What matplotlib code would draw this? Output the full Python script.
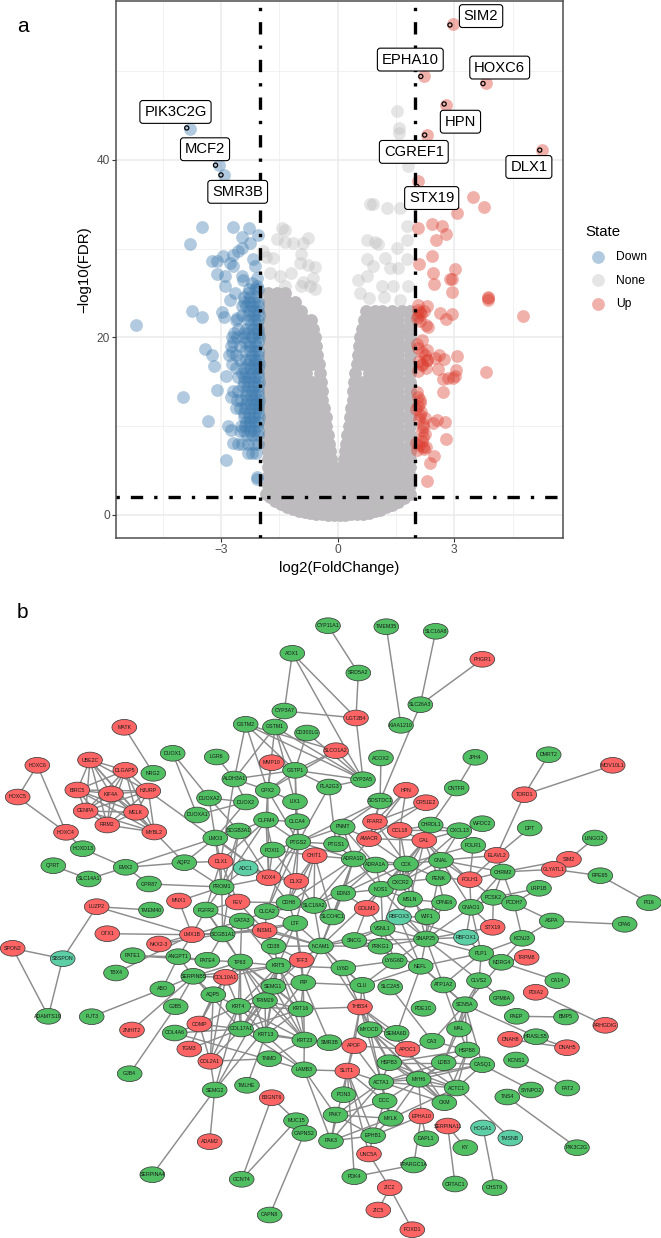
import itertools
import matplotlib
matplotlib.use('Agg')
import matplotlib.pyplot as plt
from matplotlib.patches import Ellipse

plt.rcParams['font.family'] = ['Liberation Sans', 'DejaVu Sans']

# panel a: volcano values
down_x = [-3.80, -3.05, -2.92, -3.50, -2.70, -2.27, -2.04, -2.47, -3.80, -2.26, -2.47, -2.56, -2.68, -2.94, -3.24,
          -3.11, -2.77, -2.17, -2.13, -2.70, -3.11, -2.90, -2.47, -2.08, -2.43, -2.21, -2.90, -2.08, -2.64, -2.30,
          -5.19, -3.74, -3.48, -2.98, -2.92, -2.77, -2.47, -2.60, -3.41, -3.22, -3.18, -2.87, -3.11, -3.97, -3.34,
          -2.81, -2.73, -2.68, -2.87, -2.08, -2.07, -2.62, -2.73,
          -2.10, -2.25, -2.40, -2.05, -2.20, -2.35, -2.02, -2.15, -2.30, -2.45, -2.08, -2.22, -2.05, -2.18, -2.35,
          -2.55, -2.03, -2.20, -2.40, -2.60, -2.72, -2.10, -2.25, -2.50, -2.75, -2.05, -2.20, -2.62, -2.80, -2.72,
          -2.03, -2.15, -2.30, -2.72, -2.05, -2.20, -2.35, -2.45, -2.02, -2.15, -2.30, -2.42, -2.05, -2.20, -2.35,
          -2.55, -2.70, -2.03, -2.18, -2.33, -2.48, -2.60, -2.05, -2.20, -2.38, -2.50, -2.03, -2.15, -2.28, -2.42,
          -2.07, -2.25, -2.38, -2.48, -2.05, -2.20, -2.33, -2.05, -2.15, -2.30, -2.45, -2.55, -2.10, -2.20, -2.30,
          -2.04, -2.12, -2.28, -2.04, -2.14, -2.27, -2.40, -2.06, -2.16, -2.28, -2.06, -2.14, -2.30, -2.62, -2.04,
          -2.12, -2.30, -2.42, -2.66, -2.04, -2.12, -2.28, -2.38, -2.68, -2.04, -2.12, -2.25, -2.38, -2.04, -2.12,
          -2.25, -2.36, -2.52, -2.04, -2.12, -2.25, -2.40, -2.62, -2.04, -2.12, -2.27, -2.42, -2.55, -2.04, -2.14,
          -2.30, -2.44, -2.04, -2.12, -2.24, -2.36, -2.04, -2.12, -2.24, -2.36, -2.04, -2.12, -2.28, -2.40, -2.04,
          -2.14, -2.26, -2.36, -2.04, -2.14, -2.26, -2.40, -2.50]
down_y = [43.5, 39.4, 38.3, 32.4, 32.4, 32.3, 31.5, 31.3, 30.5, 30.6, 30.1, 29.7, 29.3, 29.2, 28.6,
          28.6, 28.4, 28.8, 28.0, 28.0, 27.1, 26.9, 26.9, 26.7, 26.5, 26.1, 25.8, 25.8, 25.0, 25.0,
          21.4, 23.0, 22.3, 22.9, 22.3, 24.2, 23.5, 22.2, 18.7, 18.0, 16.8, 15.7, 14.1, 13.3, 10.6,
          10.0, 9.6, 8.1, 6.2, 4.3, 4.1, 12.0, 13.3,
          24.5, 24.5, 24.5, 23.5, 23.5, 23.5, 22.5, 22.5, 22.5, 22.5, 21.5, 21.5, 21.0, 21.0, 21.0,
          21.0, 20.0, 20.0, 20.0, 20.0, 20.0, 19.0, 19.0, 19.0, 19.0, 18.0, 18.0, 18.0, 18.0, 18.3,
          17.0, 17.0, 17.0, 17.0, 16.0, 16.0, 16.0, 16.0, 15.0, 15.0, 15.0, 15.0, 14.0, 14.0, 14.0,
          14.0, 14.0, 13.0, 13.0, 13.0, 13.0, 13.0, 12.0, 12.0, 12.0, 12.0, 11.0, 11.0, 11.0, 11.0,
          10.0, 10.0, 10.0, 10.0, 9.0, 9.0, 9.0, 8.0, 8.0, 8.0, 8.0, 8.0, 7.0, 7.0, 7.0,
          25.5, 25.4, 25.5, 24.0, 24.0, 24.0, 24.0, 23.0, 23.0, 23.0, 22.0, 22.0, 22.0, 22.0, 20.5,
          20.5, 20.5, 20.5, 20.5, 19.5, 19.5, 19.5, 19.5, 19.5, 18.5, 18.5, 18.5, 18.5, 17.5, 17.5,
          17.5, 17.5, 17.5, 16.5, 16.5, 16.5, 16.5, 16.5, 15.5, 15.5, 15.5, 15.5, 15.5, 14.5, 14.5,
          14.5, 14.5, 13.5, 13.5, 13.5, 13.5, 12.5, 12.5, 12.5, 12.5, 11.5, 11.5, 11.5, 11.5, 10.5,
          10.5, 10.5, 10.5, 9.5, 9.5, 9.5, 9.5, 9.5]

up_x = [2.98, 2.22, 3.81, 2.80, 2.31, 5.27, 2.06, 3.49, 3.76, 3.08, 2.07, 2.42, 2.68, 2.80, 2.52, 2.44, 2.09, 3.02,
        2.46, 2.89, 2.93, 2.48, 2.95, 3.88, 3.88, 3.88, 2.06, 2.31, 2.12, 2.63, 2.79, 2.95, 4.76, 2.03, 2.27, 2.33,
        2.16, 2.07, 2.31, 2.61, 3.06, 2.73, 2.50, 2.29, 2.16, 2.27, 2.59, 3.04, 3.82, 2.72, 3.02, 2.85, 2.97, 2.70,
        2.03, 2.07, 2.12, 2.02, 2.12, 2.25, 2.46, 2.56, 2.76, 2.20, 2.16, 2.19, 2.78, 2.02, 2.19, 2.27, 2.05, 2.49,
        2.37, 2.31, 2.08, 2.14, 2.22, 2.06, 2.12, 2.04, 2.16, 2.24, 2.10, 2.18, 2.30, 2.08, 2.12, 2.06, 2.14, 2.10,
        2.20, 2.24, 2.16, 2.22, 2.10]
up_y = [55.3, 49.4, 48.7, 46.2, 42.8, 41.1, 37.6, 35.8, 34.7, 34.0, 32.3, 32.8, 32.5, 31.7, 31.0, 29.2, 28.3, 27.7,
        27.2, 26.6, 26.6, 26.0, 25.1, 24.5, 24.4, 24.2, 23.6, 23.5, 22.9, 22.7, 22.1, 22.6, 22.4, 22.2, 21.4, 21.2,
        19.7, 18.8, 18.6, 18.0, 17.9, 17.6, 17.7, 17.5, 16.9, 16.5, 16.4, 16.3, 16.1, 15.3, 15.7, 15.4, 15.4, 13.8,
        13.9, 13.3, 12.6, 11.9, 11.3, 10.9, 10.3, 10.7, 10.5, 10.2, 9.4, 8.8, 8.5, 8.1, 7.7, 7.7, 7.3, 6.6,
        5.8, 3.8, 23.1, 22.6, 23.0, 22.4, 21.8, 19.3, 18.3, 18.0, 17.3, 17.0, 17.4, 16.2, 12.9, 12.3, 11.6, 10.8,
        9.9, 9.1, 8.3, 7.4, 7.9]

# loose grey points above the dense part
none_x = [-1.44, -1.36, -1.57, -1.36, -1.14, -0.88, -0.75, -0.93, -1.91, -1.66, -1.83, -0.97, -0.75, -0.58, -1.74,
          -1.48, -0.63, -1.36, -0.93, -0.71, -0.58, 0.75, 0.96, 1.05, 0.75, 0.92, 1.22, 1.52, 1.78, 1.78, 1.78,
          0.75, 0.53, 0.57, 1.13, 1.43, 1.82, 1.35, 1.56, 0.92, 0.83, 1.28, 1.60, 1.86, 1.53, 1.57, 1.57, 1.82,
          -1.80, 1.35, 1.00, -0.90, -1.20, 0.80, 1.20, 1.60]
none_y = [32.3, 32.1, 31.1, 30.8, 30.6, 30.6, 31.2, 29.4, 29.7, 28.9, 29.1, 28.4, 28.2, 27.9, 27.3,
          26.9, 26.7, 25.8, 25.8, 25.8, 25.4, 31.0, 30.8, 30.5, 28.8, 28.0, 28.9, 30.1, 31.0, 32.5, 28.8,
          26.9, 26.5, 25.0, 25.8, 25.8, 25.8, 27.8, 27.8, 35.0, 35.0, 34.6, 34.6, 35.5, 45.5, 43.6, 43.0, 39.3,
          2.8, 1.7, 0.9, 26.2, 27.2, 24.4, 24.6, 24.2]

# dense grey cloud
none_row_y = [0.2, 0.8, 1.6, 2.5, 3.4, 4.4, 5.4, 6.3, 7.2, 8, 9, 10, 11, 12, 13, 14, 15, 16, 17, 18, 19, 20, 21, 22,
              23, 24, 25]
none_row_x = [
    [-0.5, -0.25, 0, 0.25, 0.5],
    [-1.1, -0.85, -0.6, -0.35, -0.1, 0.1, 0.35, 0.6, 0.85, 1.1],
    [-1.45, -1.2, -0.95, -0.7, -0.45, -0.2, 0, 0.2, 0.45, 0.7, 0.95, 1.2, 1.45],
    [-1.72, -1.47, -1.2, -0.95, -0.7, -0.45, -0.2, 0.05, 0.3, 0.55, 0.8, 1.05, 1.3, 1.55, 1.75],
    [-1.8, -1.6, -1.35, -1.1, -0.85, -0.6, -0.35, -0.1, 0.15, 0.4, 0.65, 0.9, 1.15, 1.4, 1.65, 1.85],
    [-1.8, -1.55, -1.3, -1.05, -0.8, -0.55, -0.3, -0.05, 0.2, 0.45, 0.7, 0.95, 1.2, 1.45, 1.7, 1.85],
    [-1.8, -1.6, -1.35, -1.1, -0.85, -0.6, -0.35, -0.1, 0.15, 0.4, 0.65, 0.9, 1.15, 1.4, 1.65, 1.85],
    [-1.8, -1.55, -1.3, -1.05, -0.8, -0.55, -0.3, -0.17, 0.17, 0.3, 0.55, 0.8, 1.05, 1.3, 1.55, 1.85],
    [-1.8, -1.65, -1.4, -1.15, -0.9, -0.65, -0.4, -0.2, 0.2, 0.4, 0.65, 0.9, 1.15, 1.4, 1.65, 1.85],
    [-1.8, -1.55, -1.3, -1.05, -0.8, -0.55, -0.3, -0.22, 0.22, 0.3, 0.55, 0.8, 1.05, 1.3, 1.55, 1.85],
    [-1.8, -1.65, -1.4, -1.15, -0.9, -0.65, -0.4, -0.25, 0.25, 0.4, 0.65, 0.9, 1.15, 1.4, 1.65, 1.85],
    [-1.8, -1.55, -1.3, -1.05, -0.8, -0.55, -0.3, 0.3, 0.55, 0.8, 1.05, 1.3, 1.55, 1.85],
    [-1.8, -1.65, -1.4, -1.15, -0.9, -0.65, -0.4, -0.31, 0.31, 0.4, 0.65, 0.9, 1.15, 1.4, 1.65, 1.85],
    [-1.8, -1.55, -1.3, -1.05, -0.8, -0.55, -0.34, 0.34, 0.55, 0.8, 1.05, 1.3, 1.55, 1.85],
    [-1.8, -1.65, -1.4, -1.15, -0.9, -0.65, -0.4, 0.4, 0.65, 0.9, 1.15, 1.4, 1.65, 1.85],
    [-1.8, -1.55, -1.3, -1.05, -0.8, -0.55, -0.4, 0.4, 0.55, 0.8, 1.05, 1.3, 1.55, 1.85],
    [-1.8, -1.65, -1.4, -1.15, -0.9, -0.65, -0.43, 0.43, 0.65, 0.9, 1.15, 1.4, 1.65, 1.85],
    [-1.8, -1.55, -1.3, -1.05, -0.8, -0.46, 0.46, 0.8, 1.05, 1.3, 1.55, 1.85],
    [-1.8, -1.65, -1.4, -1.15, -0.9, -0.65, -0.49, 0.49, 0.65, 0.9, 1.15, 1.4, 1.65, 1.85],
    [-1.8, -1.55, -1.3, -1.05, -0.8, -0.52, 0.52, 0.8, 1.05, 1.3, 1.55, 1.85],
    [-1.8, -1.65, -1.4, -1.15, -0.9, -0.65, -0.55, 0.55, 0.65, 0.9, 1.15, 1.4, 1.65, 1.85],
    [-1.8, -1.55, -1.3, -1.05, -0.8, -0.58, 0.58, 0.8, 1.05, 1.3, 1.55, 1.85],
    [-1.8, -1.65, -1.4, -1.15, -0.9, -0.62, 0.62, 0.9, 1.15, 1.4, 1.65, 1.85],
    [-1.8, -1.55, -1.3, -1.05, -0.85, -0.68, 0.68, 0.85, 1.05, 1.3, 1.55, 1.85],
    [-1.8, -1.65, -1.4, -1.15, -0.95, 0.72, 0.95, 1.15, 1.4, 1.65, 1.85],
    [-1.8, -1.55, -1.3, -1.1],
    [-1.8, -1.55, -1.35],
]
# lower edge of the cloud, the smooth arc under the V
arc_x = [-1.85, -1.75, -1.6, -1.45, -1.3, -1.15, -1.0, -0.85, -0.7, -0.55, -0.4, -0.25, -0.1, 0.05, 0.2, 0.35, 0.5,
         0.65, 0.8, 0.95, 1.1, 1.25, 1.4, 1.55, 1.7, 1.85]
arc_y = [2.4, 2.0, 1.55, 1.2, 0.9, 0.65, 0.45, 0.3, 0.2, 0.1, 0.05, 0, 0, 0, 0, 0.05, 0.1, 0.15, 0.25, 0.4, 0.6, 0.85,
         1.15, 1.5, 1.95, 2.4]

gene_names = ['PIK3C2G', 'MCF2', 'SMR3B', 'SIM2', 'EPHA10', 'HOXC6', 'HPN', 'CGREF1', 'DLX1', 'STX19']
gene_x = [-3.88, -3.14, -3.00, 2.89, 2.14, 3.74, 2.74, 2.24, 5.20, 2.04]
gene_y = [43.6, 39.4, 38.3, 55.2, 49.4, 48.6, 46.3, 42.8, 41.1, 37.0]
label_x = [-4.17, -3.41, -2.57, 3.69, 1.87, 4.17, 3.16, 1.96, 4.92, 2.42]
label_y = [45.4, 41.2, 36.4, 56.2, 51.3, 50.4, 44.3, 40.9, 39.2, 35.7]

fc_cut = 2
fdr_cut = 2

# panel b: network, x and y are the layout
nodes_green = [
    ('AOX1', 292.3, 653.3), ('CYP11A1', 328, 625.7), ('CYP3A7', 284.3, 711), ('GSTM2', 245.7, 724.3),
    ('GSTM1', 275, 727), ('CD300LG', 307, 733), ('NRG2', 153.3, 773.3), ('DUOX1', 172.7, 753.3),
    ('LGR6', 216.7, 757), ('GSTP1', 295, 770.3), ('ALDH3A1', 234.3, 779), ('GPX2', 267.7, 790.3),
    ('DUOXA2', 209, 798), ('DUOX2', 246, 802), ('LIX1', 295, 801.7), ('PLA2G3', 329, 787),
    ('DUOXA1', 197, 815), ('OLFM4', 266, 820), ('CLCA4', 297.3, 821.7), ('SCGB3A1', 238.7, 831),
    ('LMO3', 215.3, 838), ('PTGS2', 298.3, 842), ('HOXD13', 82.7, 848.7), ('FOXI1', 272.7, 850),
    ('QPRT', 53.3, 865.7), ('EMX2', 125.7, 867.3), ('AQP2', 184.3, 862.7), ('SLC14A1', 88.7, 879),
    ('GPR87', 149, 884), ('PROM1', 221.7, 887), ('CDH8', 288.5, 902.7), ('SLC18A2', 314, 905.5),
    ('TMEM40', 151, 910), ('FGFR2', 205.7, 910), ('CLCA2', 266.7, 911.5), ('SLCO4C1', 332.3, 917),
    ('EDN3', 343.3, 893.2), ('NOS1', 381, 889.2), ('CXCR2', 400.2, 882.3), ('MSLN', 410, 899.2),
    ('CCK', 406, 864), ('ADRA1A', 375.7, 865), ('ADRA1D', 353.7, 859), ('WIF1', 427.3, 916.7),
    ('VSNL1', 382.7, 928.3), ('SNAP25', 426, 939), ('PRKG1', 380.3, 946.2), ('SNCG', 354.3, 940.5),
    ('LTF', 295.3, 923.3), ('GATA3', 241.7, 921), ('NCAM1', 321, 946), ('CD38', 273.7, 946.3),
    ('KRT5', 278.3, 965.7), ('LY6D', 343.3, 968), ('LY6G6D', 394.8, 961), ('NEFL', 420.7, 966.3),
    ('CLU', 362.3, 985.3), ('SLC2A5', 390.2, 987), ('PIP', 303.3, 982.7), ('SEMG1', 273.3, 986.3),
    ('TRIM29', 265, 1000.7), ('KRT16', 300.7, 1009), ('PDE1C', 423.5, 1008.3), ('KRT13', 265.7, 1035),
    ('KRT23', 304.3, 1040), ('SMR3B', 329.3, 1042.7), ('MYOCD', 369.8, 1029.7), ('SEMA6D', 396.7, 1033.3),
    ('CA3', 432.2, 1041.2), ('SRD5A2', 358.3, 673), ('TMEM35', 386.3, 626.7), ('SLC16A8', 435.7, 631.3),
    ('SLC26A3', 420.3, 704.7), ('KIAA1210', 401, 725.3), ('ACOX2', 381, 758), ('CYP3A5', 363, 779.7),
    ('JPH4', 475.3, 757.3), ('CNTFR', 456.7, 788), ('DMRT2', 548.7, 754.7), ('SOSTDC1', 380, 801),
    ('CHRDL1', 430.7, 825), ('WFDC2', 482.3, 823.7), ('CXCL13', 459.3, 830.7), ('DPT', 529.7, 828),
    ('PNMT', 342.7, 827), ('LINGO2', 594.7, 838), ('PTGS1', 336, 844), ('FOLR1', 473.3, 845.3),
    ('GNAL', 441, 860.3), ('CHRM2', 502.7, 872), ('RPE65', 600.3, 875.7), ('PENK', 438.3, 878),
    ('LRP1B', 539, 888.3), ('PCSK2', 493.3, 897.3), ('CPNE6', 444, 902.7), ('PI16', 649, 902.7),
    ('PCDH7', 514, 903), ('GNAO1', 471, 907.3), ('ASPA', 551.7, 921), ('CPA6', 624.7, 924.3),
    ('KCNJ3', 522.3, 938.3), ('PLP1', 481.3, 953.3), ('NDRG4', 501.3, 962.3), ('CLVS2', 479, 980.7),
    ('CA14', 557.3, 980.7), ('ATP1A2', 443.3, 985), ('GPM6A', 501.7, 998), ('SCN5A', 465, 1004.7),
    ('PAEP', 516.7, 1016.3), ('BMP5', 566, 1017), ('MAL', 459, 1029), ('HRASLS5', 536, 1036.7),
    ('HSPB8', 467.3, 1050), ('KCNS1', 516, 1060), ('HSPB3', 389.3, 1062.7), ('LDB3', 443.7, 1062.7),
    ('CASQ1', 482.3, 1064.7), ('MYH6', 418.7, 1079.3), ('ACTA1', 381.3, 1082), ('ACTC1', 456.7, 1088),
    ('FAT2', 567.3, 1088), ('SYNPO2', 531, 1090), ('TNS4', 507.3, 1097), ('PON3', 343.7, 1094.7),
    ('DCC', 384.7, 1101), ('CKM', 444.3, 1102.7), ('PAK7', 335.5, 1115), ('MYLK', 391, 1118.3),
    ('PIK3C2G', 577, 1147.7), ('EPHB1', 373.2, 1135.7), ('PAK3', 331, 1141), ('DAPL1', 426.3, 1138.7),
    ('KY', 465.3, 1147.7), ('PPARGC1A', 413.7, 1165), ('PDK4', 354.3, 1176.7), ('CRTAC1', 455, 1184),
    ('CHST9', 494.7, 1187.7), ('SCGB1A1', 222.7, 934), ('PATE1', 132.7, 955.7), ('ANGPT1', 178.3, 956.7),
    ('PATE4', 207.3, 960.3), ('TP63', 240.3, 962), ('TBX4', 116, 973), ('SERPINB5', 193.3, 976.3),
    ('ABO', 162.3, 989), ('AQP5', 213.3, 994.7), ('KRT4', 238.3, 1006.3), ('GJB5', 175.7, 1006.7),
    ('FUT3', 91.7, 1016.7), ('ADAMTS19', 48.3, 1016.3), ('COL4A6', 174.7, 1033), ('COL17A1', 241, 1029),
    ('TNMD', 269.3, 1058.7), ('LAMB3', 304, 1069.8), ('GJB4', 129.7, 1073.7), ('TMLHE', 247, 1085.3),
    ('SEMG2', 214.7, 1090), ('MUC15', 296, 1120.7), ('CAPNS2', 304.3, 1133.3), ('SERPINA4', 152.3, 1174.7),
    ('GCNT4', 241.7, 1179.3), ('CAPN8', 269.7, 1215),
]
nodes_red = [
    ('MATK', 124.3, 727.3), ('UBE2C', 90, 760), ('DLGAP5', 125.3, 770.3), ('MMP10', 271.7, 762.7),
    ('SLCO1A2', 336, 750.7), ('HOXC6', 37.3, 765.3), ('HOXC5', 17.7, 797), ('BIRC5', 77.3, 790),
    ('KIF4A', 111, 794), ('HJURP', 148.3, 791), ('CENPA', 85.7, 811), ('MELK', 136, 812.3),
    ('RRM2', 107.3, 825), ('MYBL2', 154.3, 832), ('HOXC4', 66, 832.3), ('CHIT1', 314.7, 855.7),
    ('DLX1', 220.7, 861.3), ('NOX4', 268.7, 877.7), ('DLX2', 296.3, 881.3), ('LUZP2', 96.7, 906.7),
    ('MNX1', 179, 901), ('FEV', 237.7, 902), ('GOLM1', 366.7, 908.3), ('INSM1', 264.7, 930.5),
    ('TFF3', 301.7, 960), ('THBS4', 360, 1007), ('APOF', 354.2, 1045.8), ('APOC1', 407.5, 1049.2),
    ('PHGR1', 482.3, 659.3), ('UGT2B4', 356, 718), ('HPN', 406, 790.3), ('MOV10L1', 612.7, 765.3),
    ('TDRD1', 524.3, 794.7), ('OR51E2', 426, 802.7), ('FFAR2', 375, 821.7), ('CCL18', 399.7, 830.3),
    ('AMACR', 369, 838.7), ('GAL', 424.3, 840.3), ('ELAVL2', 496.7, 855.3), ('SIM2', 569, 859.3),
    ('GLYATL1', 553.7, 869.3), ('FOLH1', 469.7, 879.7), ('STX19', 492.7, 927.3), ('TRPM8', 526.7, 957.3),
    ('PDIA2', 535.7, 992.3), ('ARHGDIG', 605.3, 1025.3), ('DNAH8', 510, 1039.3), ('DNAH5', 567, 1047.7),
    ('SLIT1', 347.3, 1071), ('EPHA10', 421.3, 1116), ('SERPINA11', 447.7, 1126), ('UNC5A', 369, 1154),
    ('ZIC2', 389.7, 1187.7), ('ZIC5', 378.3, 1210), ('FOXD1', 412.3, 1229.7), ('OTX1', 107.3, 933.7),
    ('LMX1B', 192, 934.7), ('NKX2-3', 159, 944), ('SPON2', 12.7, 948.3), ('COL10A1', 225.7, 977.3),
    ('COMP', 199.3, 1024), ('ZNHIT2', 132, 1030), ('TGM3', 189.3, 1049), ('COL2A1', 210.3, 1061.3),
    ('B3GNT6', 271.7, 1097.7), ('ADAM2', 209.7, 1141.7),
]
nodes_teal = [
    ('ADC1', 245.7, 868), ('RBFOX3', 399, 917), ('RBFOX1', 466, 937.3), ('HOGA1', 483, 1128),
    ('TMSNB', 510.3, 1138), ('SBSPON', 62.7, 958.7),
]

cell_cycle = ['UBE2C', 'DLGAP5', 'BIRC5', 'KIF4A', 'HJURP', 'CENPA', 'MELK', 'RRM2', 'MYBL2']
keratin = ['KRT4', 'KRT5', 'KRT13', 'KRT16', 'KRT23', 'COL17A1', 'TRIM29', 'TP63', 'SEMG1']
edge_text = """
CYP11A1 SRD5A2, SRD5A2 UGT2B4, TMEM35 KIAA1210, SLC16A8 SLC26A3, PHGR1 SLC26A3, SLC26A3 SOSTDC1,
AOX1 CYP3A7, AOX1 UGT2B4, AOX1 CYP3A5, CYP3A7 UGT2B4, CYP3A7 GSTM1, UGT2B4 CYP3A5, ACOX2 SOSTDC1,
SLCO1A2 CYP3A5, GSTM1 CYP3A5, GSTM2 CYP3A5, CD300LG GSTP1, GSTP1 CYP3A5, GSTM2 ALDH3A1, GSTM2 GPX2,
GSTM2 GSTP1, GSTM1 ALDH3A1, GSTM1 GPX2, GSTM1 GSTP1, GSTM1 LIX1, MMP10 GSTP1, MMP10 GPX2, ALDH3A1 GSTP1,
ALDH3A1 GPX2, ALDH3A1 DUOX2, ALDH3A1 DLX1, GPX2 GSTP1, GPX2 OLFM4, GPX2 PTGS2, GPX2 LIX1, LGR6 ALDH3A1,
DUOX1 DUOXA2, DUOX1 DUOXA1, DUOXA2 DUOX2, DUOXA1 DUOX2, DUOXA2 SCGB3A1, SCGB3A1 OLFM4, SCGB3A1 NOX4,
LMO3 EMX2, EMX2 SLC14A1, EMX2 HOXD13, EMX2 GPR87, EMX2 AQP2, HOXD13 HOXC4, QPRT SLC14A1,
HOXC6 HOXC5, HOXC6 HOXC4, HOXC5 HOXC4, MATK NRG2, HJURP NOX4, MYBL2 AQP2, AQP2 DLX1, AQP2 PROM1,
GPR87 PROM1, MNX1 PROM1, MNX1 LMX1B, LMX1B OTX1, LUZP2 LMX1B, LUZP2 SBSPON, SBSPON SPON2, SBSPON ADAMTS19,
SPON2 ADAMTS19, LUZP2 TMEM40, NKX2-3 LMX1B, NKX2-3 SCGB1A1, PATE1 ANGPT1, PATE1 PATE4, TBX4 LMX1B,
ANGPT1 LMX1B, ANGPT1 SERPINB5, ABO FUT3, ABO ANGPT1, ABO SERPINB5, ZNHIT2 SERPINB5, GJB5 GJB4, GJB5 SERPINB5,
COL4A6 COL17A1, COL4A6 COMP, COL4A6 LAMB3, TGM3 AQP5, TGM3 COL17A1, COMP COL2A1, COMP COL10A1, COL2A1 TNMD,
COL2A1 SEMG2, COL2A1 AQP5, COL2A1 KRT4, COL2A1 COL17A1, SEMG2 ADAM2, SEMG2 SERPINA4, SEMG2 SEMG1, SEMG2 KRT4,
TMLHE KRT13, B3GNT6 MUC15, B3GNT6 GCNT4, MUC15 GCNT4, CAPNS2 CAPN8, LAMB3 SLIT1, LAMB3 PAK3, LAMB3 PAK7,
TNMD KRT23, SIM2 GLYATL1, LINGO2 SIM2, CHRM2 GLYATL1, CHRM2 SIM2, GLYATL1 RPE65, RPE65 PI16, LRP1B PCDH7,
PCDH7 CHRM2, PCSK2 PCDH7, PCSK2 CHRM2, LRP1B PCSK2, DMRT2 TDRD1, MOV10L1 TDRD1, TDRD1 ELAVL2, DPT ELAVL2,
ELAVL2 FOLH1, ELAVL2 CHRM2, ELAVL2 GNAL, JPH4 CNTFR, CNTFR CHRDL1, ASPA CPA6, ASPA KCNJ3, ASPA PCDH7,
KCNJ3 PLP1, KCNJ3 PCDH7, KCNJ3 NDRG4, TRPM8 NDRG4, NDRG4 CA14, NDRG4 SCN5A, PLP1 NDRG4, CLVS2 GPM6A,
SCN5A HRASLS5, HRASLS5 DNAH5, DNAH8 DNAH5, PAEP BMP5, PDIA2 ARHGDIG, KCNS1 FAT2, SYNPO2 CASQ1, TNS4 PIK3C2G,
ACTC1 TMSNB, HOGA1 CHST9, SERPINA11 CRTAC1, SERPINA11 KY, EPHA10 EPHB1, EPHA10 DAPL1, PPARGC1A PDK4,
PPARGC1A EPHA10, UNC5A ZIC2, ZIC2 ZIC5, ZIC2 FOXD1, FOXI1 PTGS2, FOXI1 OLFM4, FOXI1 NOX4, FOXI1 ADC1,
FOXI1 DLX2, OLFM4 CLCA4, OLFM4 PTGS2, OLFM4 DLX1, OLFM4 NOX4, OLFM4 PROM1, CLCA4 LIX1, CLCA4 PTGS2,
CLCA4 CLCA2, LIX1 GSTP1, LIX1 PTGS2, GSTP1 PLA2G3, GSTP1 SLCO1A2, PTGS2 PLA2G3, PTGS2 PTGS1, PTGS2 PNMT,
PTGS2 NOX4, PTGS2 DLX2, PTGS2 CDH8, PTGS2 ADRA1D, PTGS2 CLCA2, PTGS1 ADRA1D, PTGS1 PNMT, PNMT ADRA1D,
PNMT ADRA1A, PNMT AMACR, AMACR FFAR2, AMACR ADRA1D, AMACR CCK, AMACR GAL, AMACR HPN, FFAR2 SOSTDC1,
FFAR2 HPN, FFAR2 CCL18, FFAR2 OR51E2, FFAR2 CCK, CCL18 GAL, CCL18 CCK, CCL18 CXCR2, CCL18 CXCL13, CHRDL1 GAL,
CHRDL1 CCL18, CHRDL1 CXCL13, GAL CCK, GAL GNAL, GAL CXCR2, GAL PENK, GAL CXCL13, GAL NOS1, GAL MSLN, GAL FOLH1,
CCK ADRA1A, CCK PENK, CCK CXCR2, CCK NOS1, CCK GNAL, CCK SNAP25, CCK VSNL1, CCK MSLN, CCK ADRA1D, CCK EDN3,
CXCL13 CXCR2, CXCL13 GNAL, CXCL13 WFDC2, GNAL PENK, GNAL FOLH1, GNAL CXCR2, GNAL CHRM2, GNAL GNAO1,
PENK FOLH1, PENK CPNE6, PENK CXCR2, PENK SNAP25, FOLH1 GNAO1, FOLH1 PCSK2, FOLH1 CHRM2, FOLR1 FOLH1,
FOLR1 CXCL13, FOLR1 ELAVL2, FOLR1 CCK, CHRM2 GNAO1, GNAO1 PCSK2, GNAO1 SNAP25, GNAO1 STX19, GNAO1 RBFOX1,
GNAO1 PLP1, STX19 SNAP25, STX19 PCSK2, CPNE6 WIF1, CPNE6 MSLN, CPNE6 SNAP25, MSLN WIF1, MSLN RBFOX3, MSLN NOS1,
MSLN CXCR2, NOS1 CXCR2, NOS1 EDN3, NOS1 VSNL1, NOS1 GOLM1, NOS1 ADRA1D, NOS1 SNAP25, NOS1 NCAM1, ADRA1A ADRA1D,
ADRA1A EDN3, ADRA1A NOS1, ADRA1A CXCR2, ADRA1D EDN3, ADRA1D SLC18A2, ADRA1D SLCO4C1, ADRA1D NCAM1, ADRA1D CDH8,
ADRA1A SLC18A2, EDN3 SLCO4C1, EDN3 NCAM1, EDN3 SLC18A2, EDN3 GOLM1, GOLM1 SNCG, GOLM1 VSNL1, RBFOX3 WIF1,
RBFOX3 VSNL1, RBFOX3 SNAP25, RBFOX3 RBFOX1, RBFOX3 NEFL, WIF1 SNAP25, VSNL1 SNAP25, VSNL1 PRKG1, VSNL1 NEFL,
VSNL1 LY6G6D, VSNL1 SNCG, VSNL1 NCAM1, SNAP25 RBFOX1, SNAP25 PRKG1, SNAP25 NEFL, SNAP25 PLP1, SNAP25 CLVS2,
SNAP25 LY6G6D, SNAP25 SNCG, SNAP25 ATP1A2, NEFL ATP1A2, NEFL PLP1, NEFL SCN5A, NEFL SNCG, NEFL CLU,
LY6G6D LY6D, LY6G6D CLU, PRKG1 SNCG, PRKG1 NCAM1, RBFOX1 PLP1, PLP1 CLVS2, PLP1 ATP1A2, ATP1A2 SCN5A, ATP1A2 MAL,
CLVS2 SCN5A, CLVS2 MAL, SCN5A MAL, SCN5A HSPB8, SCN5A CASQ1, SCN5A CA3, SCN5A LDB3, SLC2A5 CA3, CLU THBS4,
CLU LY6D, CLU NCAM1, CLU PIP, CLU MYOCD, SEMA6D NEFL, LY6D THBS4, LY6D NCAM1, LY6D KRT5, NCAM1 SNCG, NCAM1 CD38,
NCAM1 LTF, NCAM1 TFF3, NCAM1 PIP, NCAM1 SLCO4C1, NCAM1 SLC18A2, NCAM1 THBS4, NCAM1 INSM1, NCAM1 GATA3, TFF3 KRT5,
TFF3 CD38, TFF3 PIP, TFF3 LTF, TFF3 SEMG1, LTF CD38, LTF CDH8, LTF CLCA2, LTF SCGB1A1, LTF PIP, LTF KRT5, LTF INSM1,
CLCA2 CDH8, CLCA2 INSM1, CLCA2 GATA3, CLCA2 SLC18A2, CDH8 SLC18A2, CDH8 FEV, INSM1 GATA3, INSM1 SCGB1A1,
INSM1 LMX1B, INSM1 FEV, INSM1 CD38, GATA3 SCGB1A1, GATA3 FGFR2, GATA3 LMX1B, GATA3 TP63, GATA3 KRT5,
SCGB1A1 LMX1B, SCGB1A1 TP63, SCGB1A1 PATE4, SCGB1A1 FGFR2, SCGB1A1 SCGB3A1, SCGB1A1 PROM1, FGFR2 PROM1,
FGFR2 TP63, FGFR2 FEV, FGFR2 LMX1B, FGFR2 DLX1, FEV PROM1, FEV DLX1, PROM1 DLX1, PROM1 ADC1, PROM1 NOX4,
PROM1 SCGB3A1, DLX1 ADC1, DLX1 DLX2, DLX1 LMO3, ADC1 NOX4, NOX4 DLX2, NOX4 CDH8, NOX4 GPX2, DLX2 CHIT1, DLX2 CDH8,
DLX2 SLC18A2, CHIT1 FOXI1, CHIT1 LTF, CHIT1 SLC18A2, CHIT1 SLCO4C1, CHIT1 CDH8, LMO3 AQP2, LMO3 DUOXA2, LMO3 NOX4,
LMO3 PROM1, LMO3 SCGB3A1, LMO3 DUOX2, SERPINB5 COL10A1, SERPINB5 TP63, SERPINB5 AQP5, SERPINB5 KRT5,
SERPINB5 COL17A1, PATE4 ANGPT1, PATE4 TP63, COL10A1 KRT5, COL10A1 TP63, COL10A1 AQP5, COL10A1 KRT4, COL10A1 COL2A1,
CD38 KRT5, PIP SEMG1, PIP SEMG2, PIP KRT5, PIP KRT16, PIP KRT23, AQP5 KRT4, AQP5 COMP, KRT4 COMP, COL17A1 COMP,
THBS4 MYOCD, THBS4 APOF, THBS4 SEMA6D, THBS4 HSPB3, THBS4 APOC1, THBS4 KRT16, THBS4 SLIT1, THBS4 ACTA1,
MYOCD SEMA6D, MYOCD ACTA1, MYOCD MYH6, MYOCD HSPB3, MYOCD ACTC1, MYOCD CKM, SEMA6D CKM, APOF APOC1, APOF SMR3B,
APOF SLIT1, APOF ACTA1, APOC1 CA3, APOC1 HSPB3, HSPB3 ACTA1, HSPB3 MYH6, HSPB3 HSPB8, HSPB3 LDB3, HSPB3 ACTC1,
HSPB3 CKM, LDB3 MYH6, LDB3 ACTA1, LDB3 CASQ1, LDB3 ACTC1, LDB3 MAL, HSPB8 MAL, HSPB8 CA3, HSPB8 MYH6, HSPB8 ACTC1,
HSPB8 CKM, CASQ1 MYH6, CASQ1 ACTC1, CASQ1 ACTA1, MYH6 ACTA1, MYH6 ACTC1, MYH6 CKM, MYH6 DCC, MYH6 MYLK, MYH6 EPHA10,
ACTA1 ACTC1, ACTA1 CKM, ACTA1 SLIT1, ACTA1 MYLK, ACTA1 PAK7, ACTA1 PAK3, ACTC1 CKM, ACTC1 MYLK, ACTA1 DCC, DCC MYLK,
DCC EPHB1, DCC SLIT1, DCC PAK7, MYLK PAK7, MYLK EPHB1, MYLK PAK3, PAK7 PAK3, PAK7 EPHB1, PAK3 EPHB1, PAK3 SLIT1,
SLIT1 PON3, SLIT1 PDK4, SLIT1 UNC5A, SLIT1 EPHB1, EPHB1 UNC5A, KRT23 LAMB3, KRT23 SMR3B, SMR3B PIP, COL17A1 LAMB3,
KRT13 LAMB3, SOSTDC1 PNMT, SOSTDC1 AMACR, OR51E2 AMACR, HPN CCL18, PLA2G3 CYP3A5, PLA2G3 PTGS1, SLCO1A2 GSTM2,
SLCO1A2 GPX2, CD300LG CYP3A5, PTGS2 GSTP1, PTGS2 SOSTDC1, CHIT1 ADRA1D
"""
edge_pairs = [e.split() for e in edge_text.replace('\n', ' ').split(',')]

fig = plt.figure(figsize=(6.61, 12.38), dpi=100)

ax = fig.add_axes([116 / 661, 1 - 538 / 1238, 446.7 / 661, 537 / 1238])
ax.set_xlim(-5.70, 5.79)
ax.set_ylim(-2.6, 57.9)
ax.set_axisbelow(True)
ax.set_xticks([-3, 0, 3])
ax.set_xticklabels(['\u22123', '0', '3'])
ax.set_yticks([0, 20, 40])
ax.set_xticks([-4.5, -1.5, 1.5, 4.5], minor=True)
ax.set_yticks([10, 30, 50], minor=True)
ax.grid(which='major', color='#EBEBEB', lw=1.1)
ax.grid(which='minor', color='#EFEFEF', lw=0.6)
ax.tick_params(which='minor', length=0)
ax.tick_params(which='major', length=2.6, width=0.8, color='#333333', labelcolor='#4D4D4D', labelsize=8.6, pad=1.8)
for s in ax.spines.values():
    s.set_color('#4D4D4D')
    s.set_linewidth(1.1)

dot_size = 85
grey_x = list(arc_x)
grey_y = list(arc_y)
for yy, xs in zip(none_row_y, none_row_x):
    for xx in xs:
        grey_x.append(xx)
        grey_y.append(yy)
ax.scatter(grey_x, grey_y, s=dot_size, color='#BDBBBD', linewidths=0, zorder=2)
h_none = ax.scatter(none_x, none_y, s=dot_size, color='#BEBEBE', alpha=0.4, linewidths=0, zorder=2)
h_down = ax.scatter(down_x, down_y, s=dot_size, color='#3F7CB0', alpha=0.4, linewidths=0, zorder=2.5)
h_up = ax.scatter(up_x, up_y, s=dot_size, color='#DC3C2E', alpha=0.4, linewidths=0, zorder=2.5)

twodash = (0, (1, 3.3, 3.7, 3.3))
ax.plot([-fc_cut, -fc_cut], [-2.6, 57.9], color='black', lw=2.4, ls=twodash, dash_capstyle='butt', zorder=3)
ax.plot([fc_cut, fc_cut], [-2.6, 57.9], color='black', lw=2.4, ls=twodash, dash_capstyle='butt', zorder=3)
ax.plot([-5.70, 5.79], [fdr_cut, fdr_cut], color='black', lw=2.4, ls=twodash, dash_capstyle='butt', zorder=3)

ax.scatter(gene_x, gene_y, s=9, facecolors='none', edgecolors='black', linewidths=0.9, zorder=4)
for name, lx, ly in zip(gene_names, label_x, label_y):
    ax.text(lx, ly, name, fontsize=10.6, color='black', ha='center', va='center', zorder=5,
            bbox=dict(boxstyle='round,pad=0.3,rounding_size=0.2', fc='white', ec='black', lw=0.8))

ax.set_xlabel('log2(FoldChange)', fontsize=10.8)
ax.set_ylabel('\u2212log10(FDR)', fontsize=10.8)
ax.xaxis.set_label_coords(0.5, -0.043)
ax.yaxis.set_label_coords(-0.055, 0.5)

leg = ax.legend([h_down, h_none, h_up], ['Down', 'None', 'Up'], title='State', frameon=False, fontsize=8.7,
                title_fontsize=10.8, loc='upper left', bbox_to_anchor=(1.051, 0.583), labelspacing=0.98,
                handletextpad=0.55, borderpad=0, borderaxespad=0)
leg._legend_box.align = 'left'

fig.text(17 / 661, 1 - 32 / 1238, 'a', fontsize=15)
fig.text(17 / 661, 1 - 618 / 1238, 'b', fontsize=15)

# network panel
net = fig.add_axes([0, 0, 1, 648 / 1238])
net.set_xlim(0, 661)
net.set_ylim(1238, 590)
net.axis('off')

pos = {}
for group in (nodes_green, nodes_red, nodes_teal):
    for name, nx, ny in group:
        pos[name] = (nx, ny)

for a, b in itertools.chain(itertools.combinations(cell_cycle, 2), itertools.combinations(keratin, 2), edge_pairs):
    net.plot([pos[a][0], pos[b][0]], [pos[a][1], pos[b][1]], color='#8C8C8C', lw=1.05, zorder=1)

for group, col in ((nodes_green, '#4FBF62'), (nodes_red, '#FF6464'), (nodes_teal, '#5CCFA6')):
    for name, nx, ny in group:
        net.add_patch(Ellipse((nx, ny), 24.7, 15.7, fc=col, ec='#3C3C3C', lw=0.55, zorder=2))
        net.text(nx, ny, name, fontsize=3.8, color='#1A1A1A', ha='center', va='center', zorder=3)

plt.savefig('out.png', dpi=100)
plt.close('all')
